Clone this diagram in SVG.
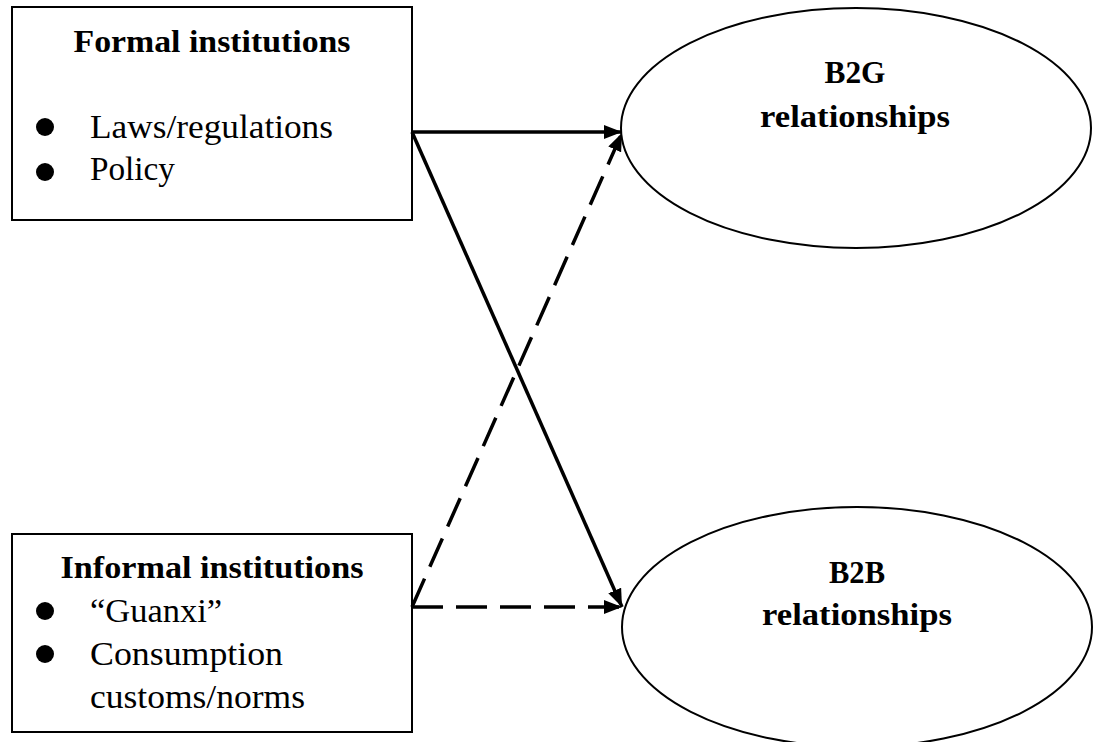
<svg xmlns="http://www.w3.org/2000/svg" width="1095" height="742" viewBox="0 0 1095 742">
  <style>
    .box { fill: #fff; stroke: #000; stroke-width: 2; }
    .oval { fill: #fff; stroke: #000; stroke-width: 2; }
    .title { font-family: "Liberation Serif", "DejaVu Serif", serif; font-weight: bold; font-size: 32px; fill: #000; }
    .item { font-family: "Liberation Serif", "DejaVu Serif", serif; font-size: 33px; fill: #000; }
    .bullet { fill: #000; }
    .link { fill: none; stroke: #000; stroke-width: 3.5; }
    .dashed { stroke-dasharray: 31 13; }
  </style>
  <defs>
    <marker id="arrow" markerUnits="userSpaceOnUse" markerWidth="20" markerHeight="16" refX="18" refY="8" orient="auto">
      <path d="M0,1 L18,8 L0,15 Z" fill="#000"/>
    </marker>
  </defs>

  <rect width="1095" height="742" fill="#fff"/>

  <!-- Formal institutions -->
  <g id="formal">
    <rect class="box" x="12" y="7" width="400" height="213"/>
    <text class="title" x="212" y="52" text-anchor="middle" textLength="277" lengthAdjust="spacingAndGlyphs">Formal institutions</text>
    <circle class="bullet" cx="45" cy="127" r="9"/>
    <text class="item" x="90" y="138" textLength="243" lengthAdjust="spacingAndGlyphs">Laws/regulations</text>
    <circle class="bullet" cx="45" cy="172" r="9"/>
    <text class="item" x="90" y="180" textLength="85" lengthAdjust="spacingAndGlyphs">Policy</text>
  </g>

  <!-- Informal institutions -->
  <g id="informal">
    <rect class="box" x="12" y="534" width="400" height="198"/>
    <text class="title" x="212" y="578" text-anchor="middle" textLength="303" lengthAdjust="spacingAndGlyphs">Informal institutions</text>
    <circle class="bullet" cx="45" cy="611" r="9"/>
    <text class="item" x="90" y="622" textLength="132" lengthAdjust="spacingAndGlyphs">“Guanxi”</text>
    <circle class="bullet" cx="45" cy="654" r="9"/>
    <text class="item" x="90" y="665" textLength="193" lengthAdjust="spacingAndGlyphs">Consumption</text>
    <text class="item" x="90" y="708" textLength="215" lengthAdjust="spacingAndGlyphs">customs/norms</text>
  </g>

  <!-- B2G relationships -->
  <g id="b2g">
    <ellipse class="oval" cx="856" cy="128" rx="235" ry="120"/>
    <text class="title" x="855" y="83" text-anchor="middle" textLength="61" lengthAdjust="spacingAndGlyphs">B2G</text>
    <text class="title" x="855" y="127" text-anchor="middle" textLength="190" lengthAdjust="spacingAndGlyphs">relationships</text>
  </g>

  <!-- B2B relationships -->
  <g id="b2b">
    <ellipse class="oval" cx="857" cy="627" rx="235" ry="120"/>
    <text class="title" x="857" y="583" text-anchor="middle" textLength="56" lengthAdjust="spacingAndGlyphs">B2B</text>
    <text class="title" x="857" y="625" text-anchor="middle" textLength="190" lengthAdjust="spacingAndGlyphs">relationships</text>
  </g>

  <!-- Connectors -->
  <g id="connectors">
    <line class="link" x1="412" y1="132" x2="622" y2="132" marker-end="url(#arrow)"/>
    <line class="link" x1="412" y1="132" x2="622" y2="607" marker-end="url(#arrow)"/>
    <line class="link dashed" x1="412" y1="607" x2="622" y2="607" marker-end="url(#arrow)"/>
    <line class="link dashed" x1="412" y1="607" x2="622" y2="133" marker-end="url(#arrow)"/>
  </g>
</svg>
